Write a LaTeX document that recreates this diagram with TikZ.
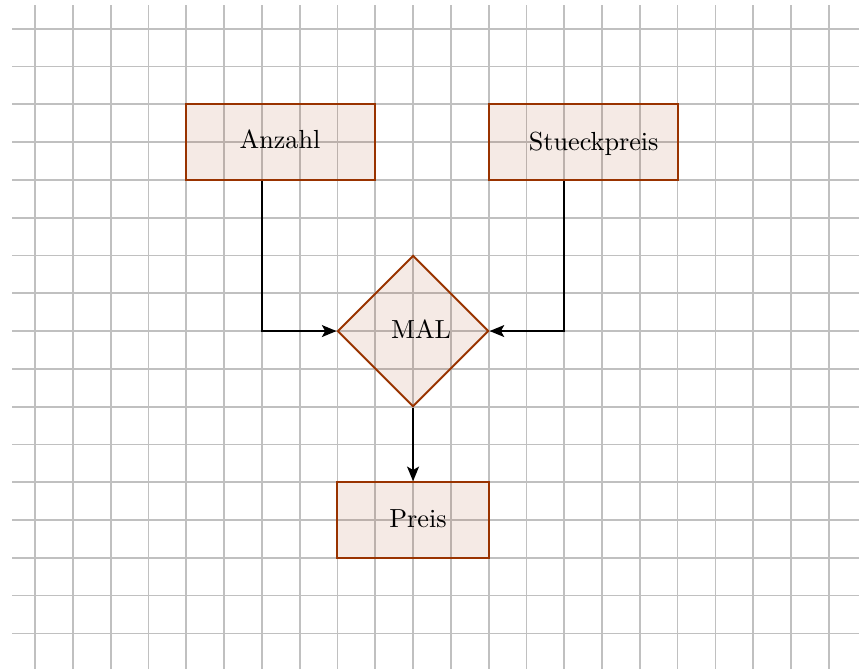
\documentclass[tikz,border=0pt]{standalone}
\usetikzlibrary{shapes.geometric,arrows.meta}
\definecolor{boxbrown}{RGB}{153,51,0}
\definecolor{gridgray}{RGB}{192,192,192}
\begin{document}
\begin{tikzpicture}[
  gridline/.style={draw=gridgray, line width=1.3pt},
  boxbase/.style={draw=boxbrown, line width=1.5pt, fill=boxbrown, fill opacity=0.1, draw opacity=1, inner sep=0pt},
  rectbox/.style={boxbase, rectangle, minimum height=2cm},
  diabox/.style={boxbase, diamond, minimum width=4cm, minimum height=4cm, aspect=1},
  lbl/.style={anchor=base, scale=1.97, inner sep=0pt},
  conn/.style={draw=black, line width=1.2pt, -{Stealth[length=11pt,width=9pt,inset=2.5pt]}}
]
\useasboundingbox (-10.93,-8.94) rectangle (11.80,8.76);
\draw[gridline, step=1] (-10.61,-9) grid (11.9,8.62);

\node[rectbox, minimum width=5cm] (anzahl) at (-3.5,5) {};
\node[rectbox, minimum width=5cm] (stueck) at (4.5,5) {};
\node[diabox] (mal) at (0,0) {};
\node[rectbox, minimum width=4cm] (preis) at (0,-5) {};

\node[lbl] (tanzahl) at (-3.52,4.84) {Anzahl};
\node[lbl] (tstueck) at (4.78,4.79) {Stueckpreis};
\node[lbl] (tmal) at (0.21,-0.21) {MAL};
\node[lbl] (tpreis) at (0.13,-5.21) {Preis};

\draw[conn] ([xshift=-0.5cm]anzahl.south) |- (mal.west);
\draw[conn] ([xshift=-0.5cm]stueck.south) |- (mal.east);
\draw[conn] (mal.south) -- (preis.north);
\end{tikzpicture}
\end{document}
